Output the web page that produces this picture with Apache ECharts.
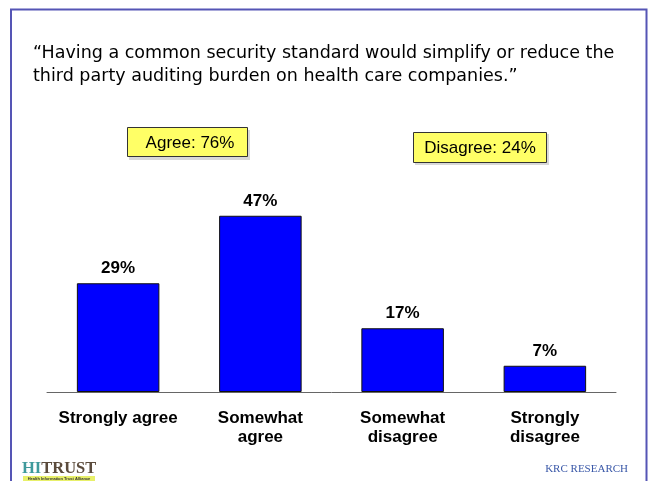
<!DOCTYPE html>
<html>
<head>
<meta charset="utf-8">
<script src="https://cdn.jsdelivr.net/npm/echarts@6/dist/echarts.min.js"></script>
<style>
  html, body { margin: 0; padding: 0; background: #fff; }
  #chart { width: 650px; height: 481px; }
</style>
</head>
<body>
<div id="chart"></div>
<script>
// Survey responses (percent of respondents)
const categories = ['Strongly agree', 'Somewhat\nagree', 'Somewhat\ndisagree', 'Strongly\ndisagree'];
const values = [29, 47, 17, 7];
const summaryLabels = ['Agree: 76%', 'Disagree: 24%'];
const titleLines = [
  '\u201CHaving a common security standard would simplify or reduce the',
  'third party auditing burden on health care companies.\u201D'
];

const chart = echarts.init(document.getElementById('chart'), null, { renderer: 'canvas' });

const boxStyle = { fill: '#ffff66', stroke: '#333333', lineWidth: 1 };
const boxText = { fontFamily: 'Liberation Sans, Arial, sans-serif', fontSize: 17, fill: '#000' };

chart.setOption({
  animation: false,
  backgroundColor: '#ffffff',
  title: {
    text: titleLines.join('\n'),
    left: 28,
    top: 37,
    textStyle: {
      fontFamily: 'DejaVu Sans, Verdana, sans-serif',
      fontSize: 17.5,
      fontWeight: 'normal',
      color: '#000',
      lineHeight: 23
    }
  },
  grid: { left: 47, right: 34, top: 204.5, bottom: 89 },
  xAxis: {
    type: 'category',
    data: categories,
    axisLine: { lineStyle: { color: '#666', width: 1 } },
    axisTick: { show: false },
    axisLabel: {
      interval: 0,
      margin: 17,
      fontFamily: 'Liberation Sans, Arial, sans-serif',
      fontSize: 17,
      fontWeight: 'bold',
      color: '#000',
      lineHeight: 19
    }
  },
  yAxis: {
    type: 'value',
    min: 0,
    max: 50,
    show: false,
    splitLine: { show: false }
  },
  series: [{
    type: 'bar',
    data: values,
    barWidth: '58%',
    itemStyle: { color: '#0000ff', borderColor: '#111', borderWidth: 1 },
    label: {
      show: true,
      position: 'top',
      distance: 6,
      formatter: '{c}%',
      fontFamily: 'Liberation Sans, Arial, sans-serif',
      fontSize: 17,
      fontWeight: 'bold',
      color: '#000'
    }
  }],
  graphic: [
    // slide frame
    { type: 'polyline', shape: { points: [[11, 481], [11, 9.5], [646.5, 9.5], [646.5, 481]] },
      style: { stroke: '#5555b5', lineWidth: 2, fill: null }, silent: true },
    // summary boxes
    { type: 'rect', shape: { x: 129, y: 130, width: 121, height: 30 }, style: { fill: '#d8d8d8' }, silent: true },
    { type: 'rect', shape: { x: 127.5, y: 127.5, width: 120, height: 29 }, style: boxStyle },
    { type: 'text', x: 190, y: 143, style: Object.assign({ text: summaryLabels[0], align: 'center', verticalAlign: 'middle' }, boxText) },
    { type: 'rect', shape: { x: 415, y: 134, width: 134, height: 31 }, style: { fill: '#d8d8d8' }, silent: true },
    { type: 'rect', shape: { x: 413.5, y: 132.5, width: 133, height: 30 }, style: boxStyle },
    { type: 'text', x: 480, y: 148.5, style: Object.assign({ text: summaryLabels[1], align: 'center', verticalAlign: 'middle' }, boxText) },
    // footer marks
    { type: 'text', x: 22, y: 460, style: { text: '{a|HI}{b|TRUST}', rich: {
        a: { fontFamily: 'Liberation Serif, Times New Roman, serif', fontSize: 16.5, fontWeight: 'bold', fill: '#3f9a9c' },
        b: { fontFamily: 'Liberation Serif, Times New Roman, serif', fontSize: 16.5, fontWeight: 'bold', fill: '#5b4b3c' }
      } } },
    { type: 'rect', shape: { x: 23, y: 476, width: 72, height: 5 }, style: { fill: '#e8f06a' }, silent: true },
    { type: 'text', x: 59, y: 478.5, style: { text: 'Health Information Trust Alliance', align: 'center', verticalAlign: 'middle',
        fontFamily: 'Liberation Sans, Arial, sans-serif', fontSize: 4, fontWeight: 'bold', fill: '#333' } },
    { type: 'text', x: 628, y: 469, style: { text: 'KRC RESEARCH', align: 'right', verticalAlign: 'middle',
        fontFamily: 'Liberation Serif, Times New Roman, serif', fontSize: 11, fill: '#3a58a8' } }
  ]
});
</script>
</body>
</html>
